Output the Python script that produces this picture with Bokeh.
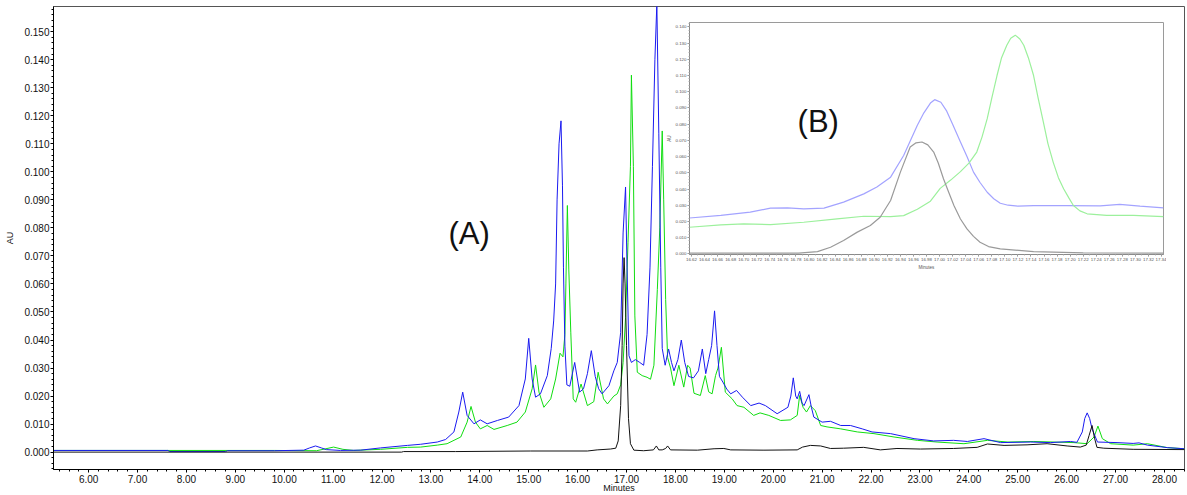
from bokeh.plotting import figure
from bokeh.models import FixedTicker, NumeralTickFormatter, Range1d, Label, ColumnDataSource
from bokeh.layouts import column
from bokeh.embed import file_html
from bokeh.resources import INLINE

# ---------------- chromatogram traces (retention time in minutes, absorbance in AU)
BLUE_TIME = [5.28, 7.62, 7.66, 8.80, 8.84, 9.80, 10.40, 10.52, 10.64, 10.76, 10.86, 11.15, 11.56,
             11.97, 12.52, 12.79, 13.13, 13.30, 13.47, 13.57, 13.65, 13.74, 13.88, 14.01, 14.15,
             14.36, 14.59, 14.80, 14.93, 15.00, 15.07, 15.14, 15.24, 15.38, 15.46, 15.51, 15.55,
             15.58, 15.62, 15.66, 15.69, 15.71, 15.74, 15.78, 15.84, 15.94, 16.04, 16.12, 16.20,
             16.28, 16.36, 16.43, 16.50, 16.64, 16.74, 16.81, 16.88, 16.93, 16.98, 17.01, 17.05,
             17.10, 17.18, 17.27, 17.35, 17.42, 17.48, 17.53, 17.58, 17.62, 17.66, 17.70, 17.73,
             17.79, 17.86, 17.92, 17.97, 18.05, 18.12, 18.19, 18.27, 18.37, 18.47, 18.55, 18.62,
             18.68, 18.74, 18.80, 18.85, 18.90, 18.97, 19.05, 19.13, 19.25, 19.37, 19.54, 19.71,
             19.84, 20.08, 20.30, 20.36, 20.41, 20.46, 20.49, 20.54, 20.59, 20.63, 20.73, 20.78,
             20.83, 21.00, 21.17, 21.38, 21.58, 21.82, 22.02, 22.40, 22.88, 23.28, 23.69, 23.97,
             24.31, 24.65, 25.26, 25.67, 26.08, 26.21, 26.32, 26.37, 26.42, 26.47, 26.52, 26.63,
             27.03, 27.36, 27.48, 27.65, 28.06, 28.41]
BLUE_AU = [0.0006, 0.0006, 0.0002, 0.0002, 0.0005, 0.0005, 0.0007, 0.0015, 0.0022, 0.0015, 0.0009,
           0.0006, 0.0007, 0.0015, 0.0024, 0.0028, 0.0036, 0.0045, 0.0072, 0.0143, 0.0214, 0.0131,
           0.0101, 0.0115, 0.0101, 0.0113, 0.0125, 0.0166, 0.0261, 0.0406, 0.0261, 0.0196, 0.0208,
           0.0273, 0.0370, 0.0468, 0.0600, 0.0900, 0.1100, 0.1182, 0.0950, 0.0660, 0.0378, 0.0240,
           0.0235, 0.0320, 0.0214, 0.0226, 0.0280, 0.0362, 0.0270, 0.0226, 0.0208, 0.0237, 0.0290,
           0.0320, 0.0427, 0.0782, 0.0946, 0.0660, 0.0344, 0.0320, 0.0330, 0.0320, 0.0310, 0.0420,
           0.0660, 0.1020, 0.1400, 0.1600, 0.1138, 0.0660, 0.0370, 0.0310, 0.0368, 0.0320, 0.0290,
           0.0330, 0.0400, 0.0320, 0.0270, 0.0265, 0.0290, 0.0368, 0.0280, 0.0330, 0.0380, 0.0504,
           0.0380, 0.0270, 0.0250, 0.0225, 0.0208, 0.0220, 0.0196, 0.0166, 0.0175, 0.0166, 0.0137,
           0.0160, 0.0200, 0.0265, 0.0200, 0.0190, 0.0217, 0.0175, 0.0166, 0.0205, 0.0160, 0.0125,
           0.0107, 0.0110, 0.0095, 0.0095, 0.0083, 0.0072, 0.0066, 0.0048, 0.0040, 0.0042, 0.0038,
           0.0048, 0.0034, 0.0036, 0.0034, 0.0038, 0.0035, 0.0072, 0.0120, 0.0140, 0.0120, 0.0083,
           0.0036, 0.0034, 0.0031, 0.0033, 0.0025, 0.0016, 0.0012]

GREEN_TIME = [5.28, 9.80, 10.66, 10.85, 11.01, 11.20, 11.42, 11.97, 12.52, 12.79, 13.13, 13.33,
              13.61, 13.74, 13.82, 13.91, 14.01, 14.15, 14.29, 14.56, 14.76, 14.93, 15.07, 15.14,
              15.21, 15.31, 15.45, 15.55, 15.64, 15.70, 15.74, 15.76, 15.79, 15.82, 15.86, 15.91,
              15.96, 16.07, 16.20, 16.33, 16.42, 16.53, 16.61, 16.74, 16.81, 16.88, 16.93, 16.98,
              17.03, 17.08, 17.10, 17.14, 17.17, 17.22, 17.32, 17.42, 17.49, 17.56, 17.63, 17.68,
              17.73, 17.76, 17.80, 17.84, 17.90, 17.97, 18.07, 18.17, 18.25, 18.30, 18.38, 18.51,
              18.61, 18.68, 18.75, 18.82, 18.87, 18.94, 19.02, 19.16, 19.26, 19.40, 19.60, 19.73,
              19.91, 20.15, 20.35, 20.49, 20.54, 20.61, 20.68, 20.76, 20.86, 20.97, 21.10, 21.38,
              21.72, 22.06, 22.47, 22.95, 23.35, 23.90, 24.38, 24.80, 25.33, 25.74, 26.15, 26.42,
              26.56, 26.64, 26.73, 26.90, 27.36, 27.65, 28.06, 28.41]
GREEN_AU = [0.0006, 0.0006, 0.0005, 0.0012, 0.0018, 0.0010, 0.0006, 0.0010, 0.0017, 0.0018, 0.0025,
            0.0030, 0.0054, 0.0107, 0.0163, 0.0107, 0.0083, 0.0095, 0.0081, 0.0095, 0.0107, 0.0143,
            0.0226, 0.0311, 0.0214, 0.0160, 0.0190, 0.0261, 0.0353, 0.0340, 0.0420, 0.0600, 0.0880,
            0.0650, 0.0428, 0.0190, 0.0178, 0.0243, 0.0166, 0.0180, 0.0285, 0.0190, 0.0172, 0.0200,
            0.0208, 0.0240, 0.0320, 0.0480, 0.0747, 0.1020, 0.1345, 0.1020, 0.0486, 0.0285, 0.0273,
            0.0267, 0.0260, 0.0310, 0.0580, 0.0800, 0.1146, 0.0900, 0.0545, 0.0338, 0.0300, 0.0237,
            0.0310, 0.0232, 0.0310, 0.0300, 0.0210, 0.0202, 0.0273, 0.0215, 0.0208, 0.0273, 0.0300,
            0.0374, 0.0214, 0.0190, 0.0166, 0.0160, 0.0131, 0.0140, 0.0131, 0.0113, 0.0115, 0.0131,
            0.0202, 0.0160, 0.0143, 0.0166, 0.0148, 0.0095, 0.0090, 0.0083, 0.0072, 0.0066, 0.0054,
            0.0042, 0.0036, 0.0030, 0.0042, 0.0036, 0.0038, 0.0036, 0.0034, 0.0030, 0.0054, 0.0093,
            0.0048, 0.0030, 0.0025, 0.0030, 0.0016, 0.0012]

BLACK_TIME = [5.28, 12.40, 12.44, 13.50, 15.04, 16.20, 16.40, 16.67, 16.78, 16.83, 16.88, 16.91,
              16.93, 16.95, 16.97, 17.00, 17.04, 17.08, 17.15, 17.35, 17.55, 17.61, 17.66, 17.73,
              17.80, 17.84, 17.90, 18.45, 18.79, 18.99, 19.13, 19.81, 20.49, 20.60, 20.76, 20.97,
              21.17, 21.44, 21.85, 22.19, 22.53, 23.01, 23.69, 24.17, 24.38, 24.72, 25.19, 25.60,
              26.01, 26.28, 26.40, 26.46, 26.52, 26.57, 26.62, 26.76, 27.36, 28.41]
BLACK_AU = [0.0000, 0.0000, 0.0002, 0.0002, 0.0004, 0.0004, 0.0008, 0.0011, 0.0014, 0.0040, 0.0166,
            0.0380, 0.0600, 0.0694, 0.0600, 0.0380, 0.0120, 0.0030, 0.0007, 0.0005, 0.0008, 0.0022,
            0.0008, 0.0008, 0.0013, 0.0022, 0.0008, 0.0007, 0.0012, 0.0013, 0.0008, 0.0007, 0.0008,
            0.0018, 0.0024, 0.0022, 0.0013, 0.0014, 0.0017, 0.0008, 0.0013, 0.0011, 0.0013, 0.0017,
            0.0029, 0.0024, 0.0026, 0.0030, 0.0022, 0.0018, 0.0025, 0.0060, 0.0095, 0.0050, 0.0017,
            0.0014, 0.0010, 0.0009]

# ---------------- expanded view of the 16.6 - 17.35 min window
ZOOM_BLUE_TIME = [16.617, 16.665, 16.710, 16.741, 16.767, 16.792, 16.823, 16.853, 16.884, 16.904,
                  16.925, 16.945, 16.966, 16.976, 16.986, 16.9925, 17.002, 17.011, 17.020, 17.032,
                  17.042, 17.052, 17.062, 17.073, 17.083, 17.093, 17.105, 17.120, 17.144, 17.195,
                  17.246, 17.276, 17.307, 17.343]
ZOOM_BLUE_AU = [0.0221, 0.0237, 0.0257, 0.0282, 0.0284, 0.0278, 0.0282, 0.0319, 0.0370, 0.0412,
                0.0473, 0.0607, 0.0793, 0.0870, 0.0930, 0.0951, 0.0935, 0.0880, 0.0800, 0.0690,
                0.0600, 0.0504, 0.0440, 0.0380, 0.0340, 0.0312, 0.0300, 0.0294, 0.0298, 0.0298,
                0.0296, 0.0305, 0.0294, 0.0284]

ZOOM_GREEN_TIME = [16.617, 16.665, 16.700, 16.741, 16.792, 16.843, 16.884, 16.925, 16.945, 16.966,
                   16.986, 17.001, 17.017, 17.032, 17.045, 17.057, 17.065, 17.073, 17.080, 17.088,
                   17.095, 17.103, 17.109, 17.116, 17.123, 17.129, 17.136, 17.144, 17.151, 17.159,
                   17.166, 17.174, 17.182, 17.190, 17.198, 17.205, 17.215, 17.226, 17.256, 17.297,
                   17.343]
ZOOM_GREEN_AU = [0.0164, 0.0179, 0.0185, 0.0180, 0.0195, 0.0216, 0.0232, 0.0230, 0.0236, 0.0275,
                 0.0325, 0.0404, 0.0455, 0.0507, 0.0560, 0.0628, 0.0720, 0.0834, 0.0960, 0.1100,
                 0.1210, 0.1287, 0.1330, 0.1349, 0.1325, 0.1287, 0.1210, 0.1100, 0.0960, 0.0813,
                 0.0680, 0.0566, 0.0470, 0.0402, 0.0345, 0.0298, 0.0265, 0.0247, 0.0237, 0.0237,
                 0.0230]

ZOOM_BLACK_TIME = [16.617, 16.784, 16.813, 16.833, 16.853, 16.874, 16.894, 16.909, 16.925, 16.940,
                   16.955, 16.964, 16.973, 16.982, 16.991, 16.998, 17.006, 17.014, 17.022, 17.032,
                   17.042, 17.052, 17.062, 17.075, 17.093, 17.144, 17.220, 17.343]
ZOOM_BLACK_AU = [0.0004, 0.0004, 0.0014, 0.0041, 0.0082, 0.0134, 0.0175, 0.0226, 0.0329, 0.0504,
                 0.0659, 0.0685, 0.0690, 0.0672, 0.0628, 0.0560, 0.0463, 0.0380, 0.0298, 0.0215,
                 0.0154, 0.0108, 0.0072, 0.0045, 0.0031, 0.0014, 0.0006, 0.0004]

# ---------------- axis ticks
MAIN_X_TICKS = [float(m) for m in range(6, 29)]
MAIN_X_MINOR = [round(5.4 + 0.2 * i, 1) for i in range(116)]
MAIN_Y_TICKS = [round(0.01 * i, 3) for i in range(16)]
MAIN_Y_MINOR = [round(-0.006 + 0.002 * i, 3) for i in range(83)]
ZOOM_X_TICKS = [round(16.62 + 0.02 * i, 2) for i in range(37)]
ZOOM_X_MINOR = [round(16.62 + 0.01 * i, 2) for i in range(73)]
ZOOM_Y_TICKS = [round(0.01 * i, 3) for i in range(15)]
ZOOM_Y_MINOR = [round(0.002 * i, 3) for i in range(72)]

FONT = "Liberation Sans"

# ---------------- main chromatogram
p = figure(width=1187, height=495, x_range=Range1d(5.282, 28.41), y_range=Range1d(-0.0062, 0.159),
           output_backend="svg", toolbar_location=None,
           min_border_left=53, min_border_right=3, min_border_top=6, min_border_bottom=24)
p.grid.visible = False
p.outline_line_color = "#555555"
p.background_fill_color = "white"
p.border_fill_color = "white"

p.xaxis.ticker = FixedTicker(ticks=MAIN_X_TICKS, minor_ticks=MAIN_X_MINOR)
p.yaxis.ticker = FixedTicker(ticks=MAIN_Y_TICKS, minor_ticks=MAIN_Y_MINOR)
p.xaxis.formatter = NumeralTickFormatter(format="0.00")
p.yaxis.formatter = NumeralTickFormatter(format="0.000")
for ax in (p.xaxis, p.yaxis):
    ax.axis_line_color = "black"
    ax.major_tick_line_color = "black"
    ax.minor_tick_line_color = "black"
    ax.major_tick_in = 0
    ax.major_tick_out = 3
    ax.minor_tick_in = 0
    ax.minor_tick_out = 2
    ax.major_label_text_font = FONT
    ax.major_label_text_font_size = "10px"
    ax.major_label_text_color = "#111111"
    ax.axis_label_text_font = FONT
    ax.axis_label_text_font_style = "normal"
    ax.axis_label_text_color = "#111111"
p.yaxis.major_label_standoff = 1
p.xaxis.major_label_standoff = 2
p.yaxis.axis_label = "AU"
p.yaxis.axis_label_text_font_size = "9px"
p.yaxis.axis_label_standoff = 6
p.xaxis.axis_label = "Minutes"
p.xaxis.axis_label_text_font_size = "9px"
p.xaxis.axis_label_standoff = -3

p.line(x="t", y="au", source=ColumnDataSource(dict(t=GREEN_TIME, au=GREEN_AU)),
       line_color="#10dd10", line_width=1)
p.line(x="t", y="au", source=ColumnDataSource(dict(t=BLUE_TIME, au=BLUE_AU)),
       line_color="#1a1af0", line_width=1)
p.line(x="t", y="au", source=ColumnDataSource(dict(t=BLACK_TIME, au=BLACK_AU)),
       line_color="#111111", line_width=1)

p.add_layout(Label(x=13.36, y=0.078, text="(A)", text_font=FONT, text_font_size="31px",
                   text_baseline="middle", text_align="left", text_color="#111111"))

# ---------------- expanded view (its side borders follow the main plot's in the column,
# so the empty border area is left transparent)
ins = figure(width=530, height=256, x_range=Range1d(16.617, 17.343), y_range=Range1d(-0.0004, 0.1427),
             output_backend="svg", toolbar_location=None,
             min_border_left=21, min_border_right=3, min_border_top=6, min_border_bottom=18)
ins.grid.visible = False
ins.outline_line_color = "#9a9a9a"
ins.background_fill_color = "white"
ins.border_fill_alpha = 0
ins.xaxis.ticker = FixedTicker(ticks=ZOOM_X_TICKS, minor_ticks=ZOOM_X_MINOR)
ins.yaxis.ticker = FixedTicker(ticks=ZOOM_Y_TICKS, minor_ticks=ZOOM_Y_MINOR)
ins.xaxis.formatter = NumeralTickFormatter(format="0.00")
ins.yaxis.formatter = NumeralTickFormatter(format="0.000")
for ax in (ins.xaxis, ins.yaxis):
    ax.axis_line_color = "#8a8a8a"
    ax.major_tick_line_color = "#8a8a8a"
    ax.minor_tick_line_color = "#b0b0b0"
    ax.major_tick_in = 0
    ax.major_tick_out = 2
    ax.minor_tick_in = 0
    ax.minor_tick_out = 1
    ax.major_label_text_font = FONT
    ax.major_label_text_font_size = "4.4px"
    ax.major_label_text_color = "#555555"
    ax.major_label_standoff = 1
    ax.axis_label_text_font = FONT
    ax.axis_label_text_font_style = "normal"
    ax.axis_label_text_font_size = "4.5px"
    ax.axis_label_text_color = "#555555"
    ax.axis_label_standoff = 1
ins.yaxis.axis_label = "AU"
ins.xaxis.axis_label = "Minutes"

ins.line(x="t", y="au", source=ColumnDataSource(dict(t=ZOOM_BLUE_TIME, au=ZOOM_BLUE_AU)),
         line_color="#a3a3ff", line_width=1.2)
ins.line(x="t", y="au", source=ColumnDataSource(dict(t=ZOOM_GREEN_TIME, au=ZOOM_GREEN_AU)),
         line_color="#9cf09c", line_width=1.2)
ins.line(x="t", y="au", source=ColumnDataSource(dict(t=ZOOM_BLACK_TIME, au=ZOOM_BLACK_AU)),
         line_color="#9a9a9a", line_width=1.2)

ins.add_layout(Label(x=16.7825, y=0.0817, text="(B)", text_font=FONT, text_font_size="31px",
                     text_baseline="middle", text_align="left", text_color="#111111"))

ins.styles = {"position": "absolute", "left": "636px", "top": "16px"}

layout = column(p, ins)
open("out.html", "w").write(file_html(layout, INLINE))
